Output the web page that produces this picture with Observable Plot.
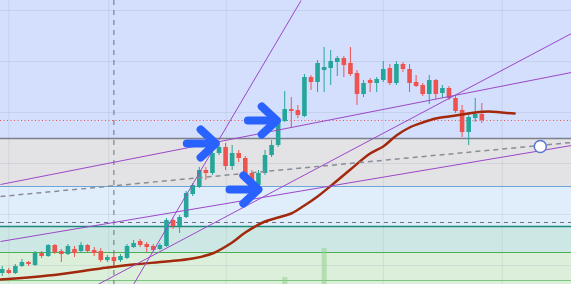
<!DOCTYPE html>
<html><head><meta charset="utf-8">
<script src="https://cdn.jsdelivr.net/npm/d3@7"></script>
<script src="https://cdn.jsdelivr.net/npm/@observablehq/plot@0.6"></script>
<style>html,body{margin:0;padding:0;background:#fff;overflow:hidden}</style>
</head><body><div id="chart"></div>
<script>
// OHLC (price units), one per session
const open  = [11.1,11.4,11.1,11.8,12.2,11.9,13.1,12.8,13.9,13.3,13.0,13.5,13.3,13.9,13.4,13.3,12.4,12.7,12.4,12.6,13.7,14.3,14.0,13.8,13.5,13.8,16.4,15.8,16.7,19.0,19.7,21.4,21.1,23.1,23.7,21.8,23.1,22.6,21.1,19.9,21.1,22.9,23.9,26.3,27.5,27.4,26.8,30.7,30.2,31.4,31.6,32.2,32.6,32.1,31.1,29.0,30.4,30.1,30.4,31.6,30.1,32.0,31.5,30.2,29.9,29.0,30.4,29.1,29.6,28.6,27.4,25.2,26.6,27.0];
const high  = [11.8,11.6,12.0,12.5,12.3,13.3,13.3,14.0,14.0,13.5,14.0,13.8,14.2,14.0,13.7,13.6,12.9,12.9,13.0,14.0,14.4,14.5,14.2,14.0,14.1,16.6,16.6,16.9,19.3,20.1,21.7,21.7,23.4,24.0,24.1,23.9,23.4,22.8,21.4,21.4,23.4,24.4,26.7,29.3,28.7,27.9,31.0,30.9,32.4,33.7,33.4,32.8,32.8,33.7,31.4,30.4,30.6,30.7,32.3,32.0,32.3,32.2,32.0,30.9,30.1,30.9,30.5,29.9,29.8,28.9,27.9,27.0,28.6,28.1];
const low   = [10.8,11.0,11.0,11.7,11.8,11.8,12.6,12.7,13.0,12.2,12.9,12.7,13.1,13.2,12.8,12.2,12.2,11.8,12.2,12.5,13.6,13.7,13.2,13.3,13.4,13.7,15.5,15.1,16.6,18.8,19.6,20.4,20.9,22.9,21.4,21.4,22.2,20.6,19.1,19.4,20.9,22.7,23.7,26.2,25.6,26.6,26.7,29.4,29.2,29.2,29.9,30.8,30.7,30.8,27.9,28.7,29.2,29.2,30.2,29.9,29.9,31.2,29.2,29.7,28.8,28.0,28.5,28.6,28.4,27.1,24.7,23.9,26.2,26.1];
const close = [11.5,11.1,11.8,12.2,12.0,13.1,12.8,13.9,13.2,13.0,13.8,13.1,13.9,13.3,13.1,12.4,12.7,12.3,12.8,13.8,14.1,13.9,13.7,13.4,13.9,16.4,15.8,16.7,19.1,19.9,21.4,21.1,23.1,23.7,21.8,23.1,22.6,20.9,19.9,21.1,22.9,23.9,26.4,27.5,27.3,26.9,30.7,30.2,32.1,31.7,32.3,32.6,31.9,31.0,29.0,30.1,30.1,30.5,31.5,30.1,32.0,31.5,30.1,29.8,29.0,30.4,29.0,29.6,28.6,27.3,25.2,26.7,27.0,26.4];

// moving average (displaced), sampled along session index
const maIndex = [-0.3,7,15,20,25,29,32,35,37,40,42,44,46,48,51,53,56,58,60,62,64,66,68,70,72,74,76,78];
const maValue = [10.5,10.9,11.6,12.0,12.3,12.6,13.1,14.2,15.2,16.3,16.7,17.1,17.9,18.8,20.4,21.5,23.1,23.8,24.9,25.7,26.2,26.6,26.8,27.0,27.2,27.3,27.2,27.1];

// volume (shown only where visible)
const volIndex = [43, 49];
const volValue = [0.7, 3.6];

// zones and levels
const zoneLevels = [38.4, 24.6, 19.8, 15.8, 13.2, 10];
const zoneColors = ["#d3dffc", "#e3e3e6", "#e0edfb", "#cde8e4", "#dcefda"];
const levelValues = [24.6, 19.8, 15.8, 13.2, 10.4];
const levelColors = ["#7d808b", "#6fa6da", "#1f8a7c", "#4caf50", "#7cc47f"];
const levelWidths = [1.5, 1, 1.5, 1, 1];
const lastPrice = close[close.length - 1];
const crossIndex = 17, crossPrice = 16.2;

// gridlines
const gridIndex = [1, 16.2, 34.1, 58, 76.1];
const gridPrice = [37.4, 32.3, 27.2, 22.1, 17.0, 11.9];

// trend lines (index, price endpoints)
const trendX1 = [19.98, 14.57, -0.26, -0.26];
const trendY1 = [10, 10, 20.0, 14.3];
const trendX2 = [45.49, 86.65, 86.65, 86.65];
const trendY2 = [38.4, 35.1, 31.2, 23.9];
const dashedTrend = {x1: -0.26, y1: 18.8, x2: 86.65, y2: 24.2};
const handle = {x: 81.9, y: 23.8};

// arrows: shaft start, tip, wing offset (index, price)
const arrowTipX = [32.5, 41.8, 39.0];
const arrowTipY = [24.1, 26.4, 19.5];
const arrowShaft = 4.4;   // index units
const wingBack = 2.3, wingSpread = 1.4;

const X0 = -0.26, X1 = 86.65, Y0 = 10, Y1 = 38.4;
const candles = open.map((o, i) => ({i, open: o, high: high[i], low: low[i], close: close[i], up: close[i] >= o}));
const ma = maIndex.map((x, k) => ({x, y: maValue[k]}));
const vols = volIndex.map((x, k) => ({x, v: volValue[k]}));
const trends = trendX1.map((x, k) => ({x1: x, y1: trendY1[k], x2: trendX2[k], y2: trendY2[k]}));
const arrows = [];
arrowTipX.forEach((tx, k) => {
  const ty = arrowTipY[k];
  arrows.push([{x: tx - arrowShaft, y: ty, a: k}, {x: tx - 0.1, y: ty, a: k}]);
  arrows.push([{x: tx - wingBack, y: ty + wingSpread}, {x: tx, y: ty}, {x: tx - wingBack, y: ty - wingSpread}]);
});

const marks = [];
zoneColors.forEach((c, k) => {
  marks.push(Plot.rect([0], {x1: X0, x2: X1, y1: zoneLevels[k + 1], y2: zoneLevels[k], fill: c}));
});
marks.push(Plot.ruleX(gridIndex, {stroke: "#8a93b0", strokeOpacity: 0.18}));
marks.push(Plot.ruleY(gridPrice, {stroke: "#8a93b0", strokeOpacity: 0.18}));
levelValues.forEach((v, k) => {
  marks.push(Plot.ruleY([v], {stroke: levelColors[k], strokeWidth: levelWidths[k]}));
});
marks.push(Plot.ruleY([crossPrice], {stroke: "#6b6f7d", strokeDasharray: "4,4"}));
marks.push(Plot.ruleX([crossIndex], {stroke: "#6b6f7d", strokeDasharray: "5,5"}));
marks.push(Plot.ruleY([lastPrice], {stroke: "#e25656", strokeDasharray: "1,2.5"}));
marks.push(Plot.ruleX(vols, {x: "x", y1: Y0, y2: d => Y0 + d.v, stroke: "#8fcf92", strokeOpacity: 0.55, strokeWidth: 5}));
marks.push(Plot.ruleX(candles, {x: "i", y1: "low", y2: "high", stroke: d => d.up ? "#26a69a" : "#ef5350", strokeWidth: 1}));
marks.push(Plot.ruleX(candles, {x: "i", y1: "open", y2: "close", stroke: d => d.up ? "#26a69a" : "#ef5350", strokeWidth: 4.6}));
marks.push(Plot.line(ma, {x: "x", y: "y", stroke: "#a3290c", strokeWidth: 2.5, curve: "catmull-rom"}));
marks.push(Plot.link([dashedTrend], {x1: "x1", y1: "y1", x2: "x2", y2: "y2", stroke: "#8b8d96", strokeWidth: 1.5, strokeDasharray: "5,4"}));
marks.push(Plot.link(trends, {x1: "x1", y1: "y1", x2: "x2", y2: "y2", stroke: "#9c47c8", strokeWidth: 1}));
arrows.forEach(pts => {
  marks.push(Plot.line(pts, {x: "x", y: "y", stroke: "#2962ff", strokeWidth: 8, strokeLinecap: "round", strokeLinejoin: "round"}));
});
marks.push(Plot.dot([handle], {x: "x", y: "y", r: 6, fill: "white", stroke: "#5a76cf", strokeWidth: 1.5}));

const chart = Plot.plot({
  width: 571, height: 284, margin: 0,
  x: {domain: [X0, X1], axis: null},
  y: {domain: [Y0, Y1], axis: null},
  color: {type: "identity"},
  style: {background: "#d3dffc"},
  marks
});
document.getElementById("chart").appendChild(chart);
</script>
</body></html>
